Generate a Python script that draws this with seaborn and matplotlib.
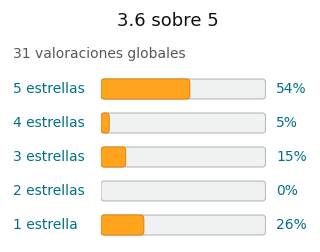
import matplotlib
matplotlib.use("Agg")
import matplotlib.pyplot as plt
import seaborn as sns
import pandas as pd
from matplotlib.patches import FancyBboxPatch

sns.set_theme(style="white")
plt.rcParams['font.family'] = ['DejaVu Sans']

categories = ["5 estrellas", "4 estrellas", "3 estrellas", "2 estrellas", "1 estrella"]
percents = [54, 5, 15, 0, 26]
pct_labels = ["54%", "5%", "15%", "0%", "26%"]
title = "3.6 sobre 5"
subtitle = "31 valoraciones globales"

df = pd.DataFrame({"cat": categories, "pct": percents, "full": [100] * len(categories)})

W, H = 320, 252
fig = plt.figure(figsize=(W / 100, H / 100), dpi=100)
fig.patch.set_facecolor("white")

x0, x1 = 101, 265.5
row_h = 34
top = 89 - row_h / 2
ax = fig.add_axes([x0 / W, (H - (top + 5 * row_h)) / H, (x1 - x0) / W, 5 * row_h / H])

bar_w = 20 / row_h
sns.barplot(data=df, x="full", y="cat", order=categories, color="#F0F2F2",
            width=bar_w, ax=ax, orient="h")
sns.barplot(data=df, x="pct", y="cat", order=categories, color="#FFA41C",
            width=bar_w, ax=ax, orient="h")

ax.set_xlim(0, 100)
ax.set_ylim(4.5, -0.5)

# replace rectangles with rounded boxes
px_per_x = (x1 - x0) / 100
px_per_y = row_h
r_px = 3.5
patches = list(ax.patches)
n = len(categories)
for i, p in enumerate(patches):
    x, y, w, h = p.get_x(), p.get_y(), p.get_width(), p.get_height()
    is_track = i < n
    p.remove()
    if w <= 0:
        continue
    r = r_px / px_per_x
    box = FancyBboxPatch((x, y), w, h,
                         boxstyle=f"round,pad=0,rounding_size={r}",
                         mutation_aspect=px_per_x / px_per_y,
                         facecolor="#F0F2F2" if is_track else "#FFA41C",
                         edgecolor="#B5BABA" if is_track else "#E3861A",
                         linewidth=0.8, zorder=2 if is_track else 3)
    ax.add_patch(box)

ax.set_axis_off()

teal = "#007185"
for i, (cat, lab) in enumerate(zip(categories, pct_labels)):
    yc = 89 + i * row_h
    fig.text(13 / W, 1 - yc / H, cat, color=teal, fontsize=10, ha="left", va="center")
    fig.text(276 / W, 1 - yc / H, lab, color=teal, fontsize=10, ha="left", va="center")

fig.text(168 / W, 1 - 21 / H, title, color="#0F1111", fontsize=13, ha="center", va="center")
fig.text(13 / W, 1 - 54 / H, subtitle, color="#565959", fontsize=10, ha="left", va="center")

fig.savefig("out.png", dpi=100, facecolor="white")
